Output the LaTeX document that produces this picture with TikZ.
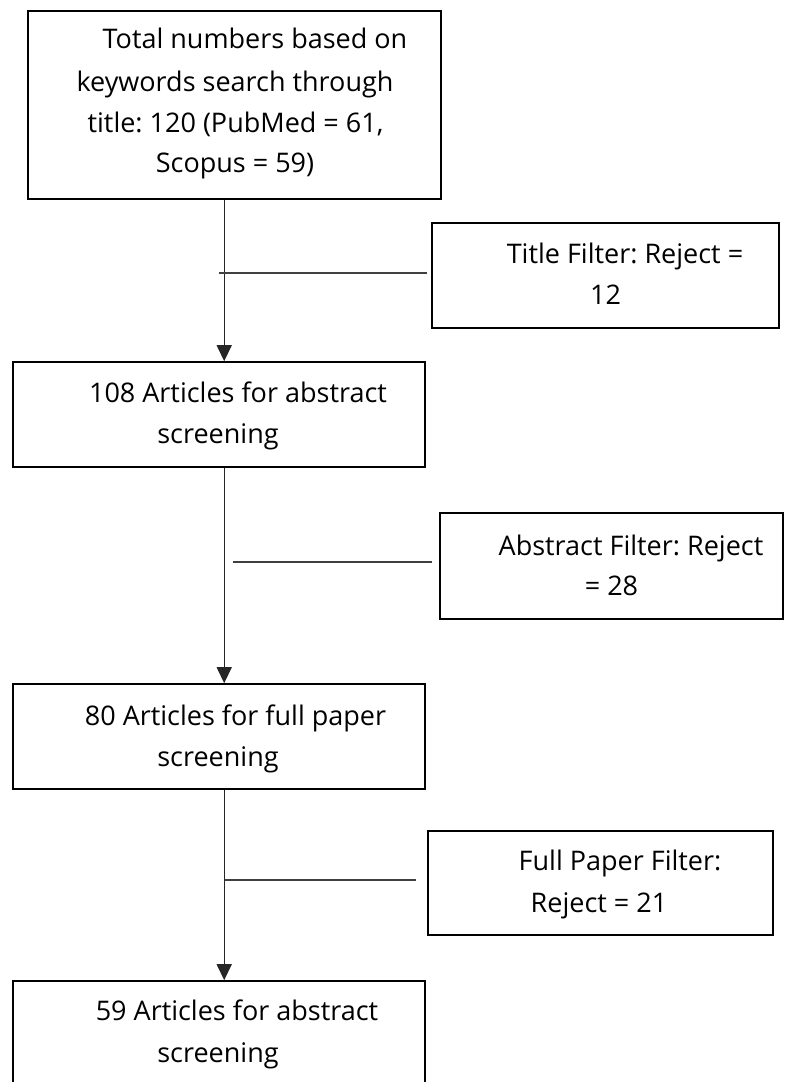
\documentclass[tikz,border=0pt]{standalone}
\usepackage{fontspec}
\setmainfont{Open Sans}
\frenchspacing
\usetikzlibrary{arrows.meta}

\tikzset{
  box/.style={draw=black, line width=1.6pt, rectangle, inner sep=0pt},
  txt/.style={anchor=base, inner sep=0pt, font=\fontsize{27}{41}\selectfont, text=black},
  flow/.style={draw=black!85, line width=1.4pt, -{Triangle[width=15pt,length=16pt]}},
  branch/.style={draw=black!75, line width=1.3pt},
}

\begin{document}
\begin{tikzpicture}[x=1pt,y=-1pt]
\clip (0,0) rectangle (789,1082);
\fill[white] (0,0) rectangle (789,1082);

% main column
\node[box, minimum width=413pt, minimum height=188pt] (b1) at (234.5,105) {};
\node[box, minimum width=412pt, minimum height=105pt] (b2) at (219,414.5) {};
\node[box, minimum width=412pt, minimum height=105pt] (b3) at (219,736.5) {};
\node[box, minimum width=412pt, minimum height=129pt] (b4) at (219,1045.5) {};

% reject boxes
\node[box, minimum width=347pt, minimum height=105pt] (f1) at (605.5,275.5) {};
\node[box, minimum width=343pt, minimum height=106pt] (f2) at (611.5,566) {};
\node[box, minimum width=345pt, minimum height=104pt] (f3) at (600.5,883) {};

% texts
\node[txt] (b1a) at (255,48)   {Total numbers based on};
\node[txt] (b1b) at (235,91)   {keywords search through};
\node[txt] (b1c) at (235.5,132) {title: 120 (PubMed = 61,};
\node[txt] (b1d) at (235,172)  {Scopus = 59)};

\node[txt] (f1a) at (625,263)   {Title Filter: Reject =};
\node[txt] (f1b) at (605.5,304) {12};

\node[txt] (b2a) at (238,402) {108 Articles for abstract};
\node[txt] (b2b) at (218,443) {screening};

\node[txt] (f2a) at (631,555)   {Abstract Filter: Reject};
\node[txt] (f2b) at (611.5,595) {= 28};

\node[txt] (b3a) at (235.5,725) {80 Articles for full paper};
\node[txt] (b3b) at (218,766)   {screening};

\node[txt] (f3a) at (620,870) {Full Paper Filter:};
\node[txt] (f3b) at (599,912) {Reject = 21};

\node[txt] (b4a) at (237,1020) {59 Articles for abstract};
\node[txt] (b4b) at (218,1062) {screening};

% trunk of the flow
\coordinate (j1) at ([xshift=212pt]b2.north west);
\coordinate (j2) at ([xshift=212pt]b3.north west);
\coordinate (j3) at ([xshift=212pt]b4.north west);
\draw[flow] (j1 |- b1.south) -- (j1);
\draw[flow] (j2 |- b2.south) -- (j2);
\draw[flow] (j3 |- b3.south) -- (j3);

% side branches towards the reject boxes
\coordinate (s1) at (219,273);
\coordinate (s2) at (233,562);
\coordinate (s3) at (225,880);
\draw[branch] (s1) -- ([xshift=-4pt]s1 -| f1.west);
\draw[branch] (s2) -- ([xshift=-7pt]s2 -| f2.west);
\draw[branch] (s3) -- ([xshift=-11pt]s3 -| f3.west);
\end{tikzpicture}
\end{document}
